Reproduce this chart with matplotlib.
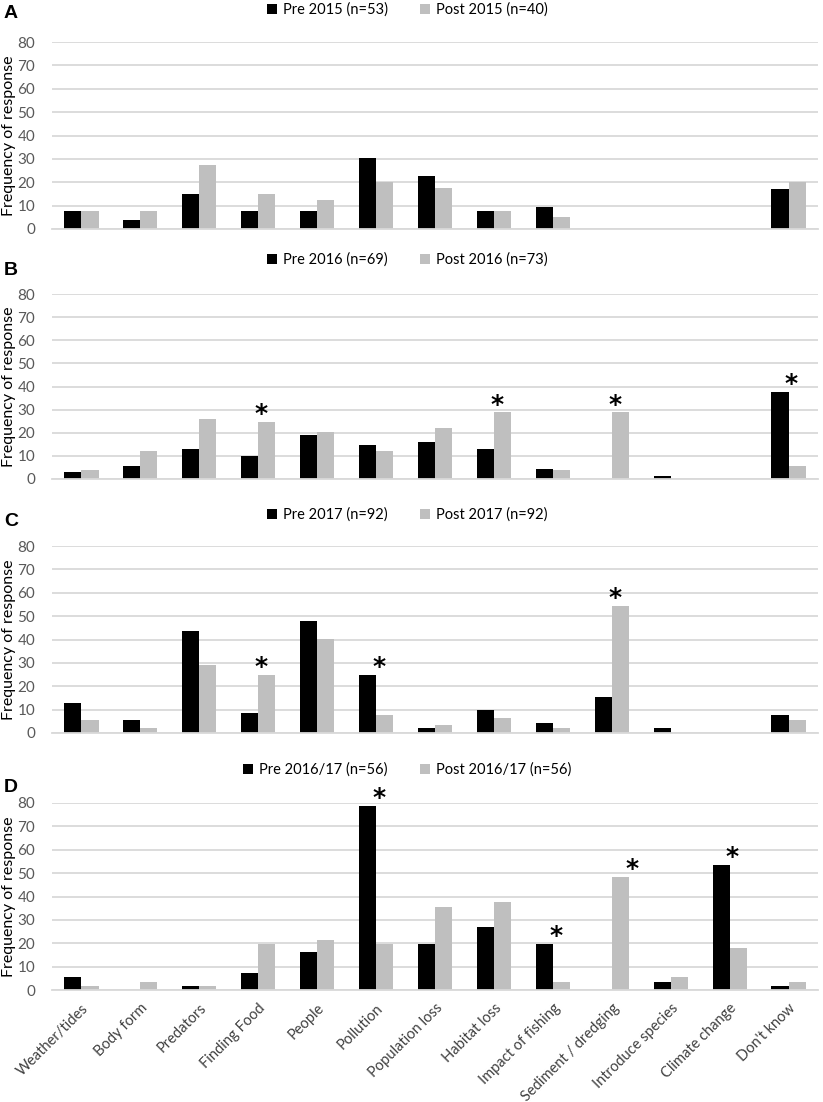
import matplotlib
matplotlib.use("Agg")
import matplotlib.pyplot as plt
import numpy as np

categories = ["Weather/tides", "Body form", "Predators", "Finding Food", "People",
              "Pollution", "Population loss", "Habitat loss", "Impact of fishing",
              "Sediment / dredging", "Introduce species", "Climate change", "Don't know"]

pre_2015 = [7.5, 3.8, 15.1, 7.5, 7.5, 30.2, 22.6, 7.5, 9.4, 0, 0, 0, 17.0]
post_2015 = [7.5, 7.5, 27.5, 15.0, 12.5, 20.0, 17.5, 7.5, 5.0, 0, 0, 0, 20.0]

pre_2016 = [2.9, 5.8, 13.0, 10.1, 19.0, 14.5, 15.9, 13.0, 4.3, 0, 1.4, 0, 37.7]
post_2016 = [4.1, 12.3, 26.0, 24.7, 20.5, 12.3, 21.9, 28.8, 4.1, 28.8, 0, 0, 5.5]

pre_2017 = [13.0, 5.4, 43.5, 8.7, 47.8, 25.0, 2.2, 9.8, 4.3, 15.2, 2.2, 0, 7.6]
post_2017 = [5.4, 2.2, 29.3, 25.0, 40.2, 7.6, 3.3, 6.5, 2.2, 54.3, 0, 0, 5.4]

pre_1617 = [5.4, 0, 1.8, 7.1, 16.1, 78.6, 19.6, 26.8, 19.6, 0, 3.6, 53.6, 1.8]
post_1617 = [1.8, 3.6, 1.8, 19.6, 21.4, 19.6, 35.7, 37.5, 3.6, 48.2, 5.4, 17.9, 3.6]

legend_labels = [("Pre 2015 (n=53)", "Post 2015 (n=40)"),
                 ("Pre 2016 (n=69)", "Post 2016 (n=73)"),
                 ("Pre 2017 (n=92)", "Post 2017 (n=92)"),
                 ("Pre 2016/17 (n=56)", "Post 2016/17 (n=56)")]
panel_letters = ["A", "B", "C", "D"]
# categories marked with an asterisk
stars = [[], [3, 7, 9, 12], [3, 5, 9], [5, 8, 9, 11]]

series = [(pre_2015, post_2015), (pre_2016, post_2016),
          (pre_2017, post_2017), (pre_1617, post_1617)]

W, H = 823, 1102
fig = plt.figure(figsize=(W / 100, H / 100), dpi=100)

tick_font = "Lato"
grey_txt = "#595959"

# top (y=80) and bottom (y=0) of each plot area in pixels
tops = [42, 294, 546, 803]
bottoms = [229, 479, 733, 990]
legend_y = [10, 260, 515, 770]
letter_y = [13, 270, 522, 788]
left, right = 52, 818

x = np.arange(len(categories))
bw = 0.29

for i in range(4):
    pre, post = series[i]
    ax = fig.add_axes([left / W, 1 - bottoms[i] / H, (right - left) / W,
                       (bottoms[i] - tops[i]) / H])
    b1 = ax.bar(x - bw / 2, pre, bw, color="black", label=legend_labels[i][0])
    b2 = ax.bar(x + bw / 2, post, bw, color="#bfbfbf", label=legend_labels[i][1])
    ax.set_xlim(-0.5, len(categories) - 0.5)
    ax.set_ylim(0, 80)
    ax.set_yticks(range(0, 81, 10))
    ax.yaxis.grid(True, color="#d9d9d9", linewidth=1.3)
    ax.set_axisbelow(True)
    for s in ["top", "right", "left"]:
        ax.spines[s].set_visible(False)
    ax.spines["bottom"].set_color("#d9d9d9")
    ax.spines["bottom"].set_linewidth(1.3)
    ax.tick_params(axis="y", length=0, pad=12, labelsize=11, labelcolor=grey_txt)
    for t in ax.get_yticklabels():
        t.set_fontfamily(tick_font)
    ax.set_ylabel("Frequency of response", fontsize=11.5, fontfamily=tick_font)
    ax.yaxis.set_label_coords((2 - left) / (right - left), 0.5)
    ax.yaxis.label.set_va("top")

    if i == 3:
        ax.set_xticks(x)
        ax.set_xticklabels(categories, rotation=45, ha="right",
                           rotation_mode="anchor", fontfamily=tick_font,
                           fontsize=10.5, color="#404040")
        ax.tick_params(axis="x", length=0, pad=8)
    else:
        ax.set_xticks([])

    for c in stars[i]:
        top = max(pre[c], post[c])
        dx = 0.35 if (i == 3 and c == 9) else 0.05
        ax.annotate("*", (c + dx, top), xytext=(0, -3), textcoords="offset points",
                    ha="center", va="bottom", fontsize=18, fontweight="bold",
                    annotation_clip=False)

    fig.legend(handles=[b1, b2], loc="center", ncol=2,
               bbox_to_anchor=(407 / W, 1 - legend_y[i] / H), frameon=False,
               prop={"family": tick_font, "size": 10.5}, handlelength=0.7,
               handleheight=0.7, handletextpad=0.4, columnspacing=2.2)
    fig.text(4 / W, 1 - letter_y[i] / H, panel_letters[i], fontsize=14,
             fontweight="bold", fontfamily="Liberation Sans", va="center")

fig.savefig("out.png", dpi=100)
